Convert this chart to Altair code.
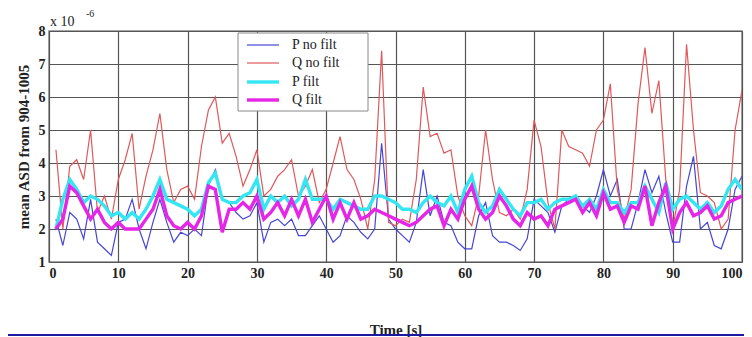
import altair as alt
import pandas as pd

t = list(range(1, 101))

p_nofilt = [2.3, 1.5, 2.5, 2.3, 1.7, 2.9, 1.6, 1.4, 1.2, 2.2,
            2.3, 2.9, 2.0, 1.4, 2.2, 2.9, 2.2, 1.6, 1.9, 1.8,
            2.0, 1.8, 3.3, 3.8, 2.9, 2.8, 2.5, 2.3, 2.4, 2.8,
            1.6, 2.2, 2.3, 2.1, 2.3, 1.8, 1.8, 2.1, 2.4, 2.0,
            1.6, 1.8, 2.4, 2.2, 1.9, 1.7, 2.0, 4.6, 2.3, 2.0,
            1.8, 1.6, 2.2, 3.8, 2.4, 3.0, 2.2, 2.1, 1.6, 1.4,
            1.4, 2.4, 2.8, 1.8, 1.6, 1.6, 1.5, 1.35, 1.7, 2.9,
            2.7, 2.5, 1.9, 2.7, 2.9, 2.9, 2.7, 2.5, 3.0, 3.8,
            3.0, 3.5, 2.0, 2.0, 2.8, 3.8, 3.1, 3.6, 2.5, 1.6,
            1.6, 3.3, 4.2, 2.0, 2.2, 1.5, 1.4, 2.0, 3.2, 3.6]

q_nofilt = [4.4, 2.0, 3.9, 4.1, 3.5, 5.0, 2.5, 3.0, 2.3, 3.5,
            4.1, 4.9, 2.6, 3.6, 4.4, 5.5, 3.8, 2.8, 3.2, 3.3,
            2.9, 4.5, 5.6, 6.0, 4.6, 4.9, 4.2, 3.3, 3.8, 4.4,
            3.0, 3.2, 3.6, 3.8, 4.1, 3.0, 3.3, 3.8, 2.8, 3.2,
            4.0, 4.8, 3.8, 3.5, 2.9, 2.0, 3.5, 7.4, 2.2, 2.1,
            2.3, 2.2, 3.5, 6.3, 4.8, 4.9, 4.3, 4.4, 3.0, 2.4,
            2.1, 3.0, 5.0, 3.5, 2.5, 2.4, 2.6, 2.3, 3.2, 5.3,
            4.5, 2.8, 2.0, 5.0, 4.5, 4.4, 4.3, 3.9, 5.0, 5.3,
            6.4, 3.2, 2.3, 3.2, 5.8, 7.5, 5.5, 6.5, 3.5, 2.0,
            3.2, 7.6, 5.0, 3.1, 3.0, 2.8, 2.0, 2.3, 5.0, 6.2]

p_filt = [2.0, 2.9, 3.5, 3.2, 2.8, 3.0, 2.9, 2.7, 2.4, 2.5,
          2.3, 2.5, 2.3, 2.6, 3.0, 3.5, 2.9, 2.8, 2.7, 2.6,
          2.4, 2.6, 3.4, 3.7, 2.9, 2.8, 2.8, 3.0, 3.1, 3.5,
          2.6, 3.0, 2.8, 3.0, 2.7, 2.9, 3.5, 2.9, 2.9, 2.9,
          2.6, 2.9, 2.8, 2.7, 2.6, 2.6, 3.0, 3.0, 2.9, 2.8,
          2.6, 2.6, 2.5, 2.8, 3.0, 2.8, 2.7, 3.0, 2.5, 3.2,
          3.6, 2.8, 2.5, 2.7, 3.2, 2.9, 2.6, 2.4, 2.8, 2.8,
          2.9, 2.6, 2.8, 2.9, 2.9, 3.0, 2.7, 2.9, 2.6, 3.2,
          2.8, 2.8, 2.5, 2.8, 2.8, 3.3, 2.9, 2.5, 3.4, 2.6,
          2.9, 3.0, 2.8, 2.6, 2.8, 2.5, 2.7, 3.2, 3.5, 3.2]

q_filt = [2.0, 2.3, 3.3, 3.1, 2.7, 2.3, 2.6, 2.2, 2.0, 2.2,
          2.0, 2.0, 2.0, 2.3, 2.6, 3.2, 2.4, 2.1, 2.0, 2.2,
          2.0, 2.4, 3.3, 3.2, 1.9, 2.6, 2.6, 2.8, 2.6, 3.0,
          2.3, 2.5, 2.8, 2.4, 2.9, 2.4, 2.9, 2.2, 2.6, 3.0,
          2.3, 2.8, 2.3, 2.8, 2.3, 2.4, 2.6, 2.5, 2.4, 2.3,
          2.2, 2.1, 2.2, 2.4, 2.6, 2.7, 2.1, 2.6, 2.3, 2.9,
          3.3, 2.6, 2.3, 2.5, 3.0, 2.7, 2.3, 2.1, 2.5, 2.3,
          2.4, 2.1, 2.6, 2.7, 2.8, 2.9, 2.5, 2.8, 2.4, 3.1,
          2.6, 2.7, 2.2, 2.7, 2.6, 3.3, 2.1, 2.8, 3.3, 2.0,
          2.5, 2.8, 2.4, 2.5, 2.7, 2.3, 2.4, 2.8, 2.9, 3.0]

series_names = ["P no filt", "Q no filt", "P filt", "Q filt"]
series_colors = ["#4646d6", "#e0585a", "#33e6f2", "#e626e6"]
series_widths = [1.2, 1.2, 3.4, 3.4]

rows = []
for name, vals in zip(series_names, [p_nofilt, q_nofilt, p_filt, q_filt]):
    for ti, v in zip(t, vals):
        rows.append({"t": ti, "v": v, "series": name})
df = pd.DataFrame(rows)

serif = "Liberation Serif"
color_scale = alt.Scale(domain=series_names, range=series_colors)

layers = []
for i, name in enumerate(series_names):
    lay = alt.Chart(df).transform_filter(alt.datum.series == name).mark_line(
        clip=True, strokeWidth=series_widths[i]
    ).encode(
        x=alt.X("t:Q", scale=alt.Scale(domain=[0, 100], nice=False),
                axis=alt.Axis(values=list(range(0, 101, 10)), title="Time [s]",
                              titlePadding=42)),
        y=alt.Y("v:Q", scale=alt.Scale(domain=[1, 8], nice=False),
                axis=alt.Axis(values=list(range(1, 9)), title="mean ASD from 904-1005",
                              titlePadding=7)),
        color=alt.Color("series:N", scale=color_scale, legend=None),
    )
    layers.append(lay)

# legend box
legend_box = alt.Chart(pd.DataFrame({"a": [0]})).mark_rect(
    fill="white", stroke="#888", strokeWidth=1
).encode(x=alt.value(189), x2=alt.value(319), y=alt.value(2), y2=alt.value(80))
layers.append(legend_box)

row_y = [14, 32, 51, 69]
for i, name in enumerate(series_names):
    ldf = pd.DataFrame({"series": [name]})
    sym = alt.Chart(ldf).mark_rule(strokeWidth=series_widths[i]).encode(
        x=alt.value(198), x2=alt.value(230), y=alt.value(row_y[i]),
        color=alt.Color("series:N", scale=color_scale, legend=None),
    )
    lab = alt.Chart(ldf).mark_text(
        font=serif, fontSize=14, align="left", baseline="middle", color="#222"
    ).encode(text="series:N", x=alt.value(243), y=alt.value(row_y[i]))
    layers += [sym, lab]

exp_base = alt.Chart(pd.DataFrame({"s": ["x 10"]})).mark_text(
    font=serif, fontSize=14, align="left", baseline="middle", color="#222"
).encode(text="s:N", x=alt.value(1), y=alt.value(-9))

exp_sup = alt.Chart(pd.DataFrame({"s": ["-6"]})).mark_text(
    font=serif, fontSize=10, align="left", baseline="middle", color="#222"
).encode(text="s:N", x=alt.value(37), y=alt.value(-17))

bottom_rule = alt.Chart(pd.DataFrame({"a": [0]})).mark_rule(
    color="#1a1aa0", strokeWidth=2
).encode(x=alt.value(-49), x2=alt.value(703), y=alt.value(304))

layers += [exp_base, exp_sup, bottom_rule]

chart = alt.layer(*layers).properties(
    width=693, height=231,
    autosize=alt.AutoSizeParams(type="none"),
    padding={"left": 41, "top": 23, "right": 2, "bottom": 76},
    background="white",
).configure_view(
    stroke="#888", strokeWidth=1.5
).configure_axis(
    grid=True, gridColor="#555", gridWidth=1.2, gridOpacity=1,
    domain=False, ticks=False,
    labelFont=serif, labelFontSize=14, labelFontWeight="bold", labelColor="#222",
    titleFont=serif, titleFontSize=15, titleFontWeight="bold", titleColor="#222",
    labelPadding=4,
)

chart.save("out.html", embed_options={"renderer": "svg", "actions": False})
